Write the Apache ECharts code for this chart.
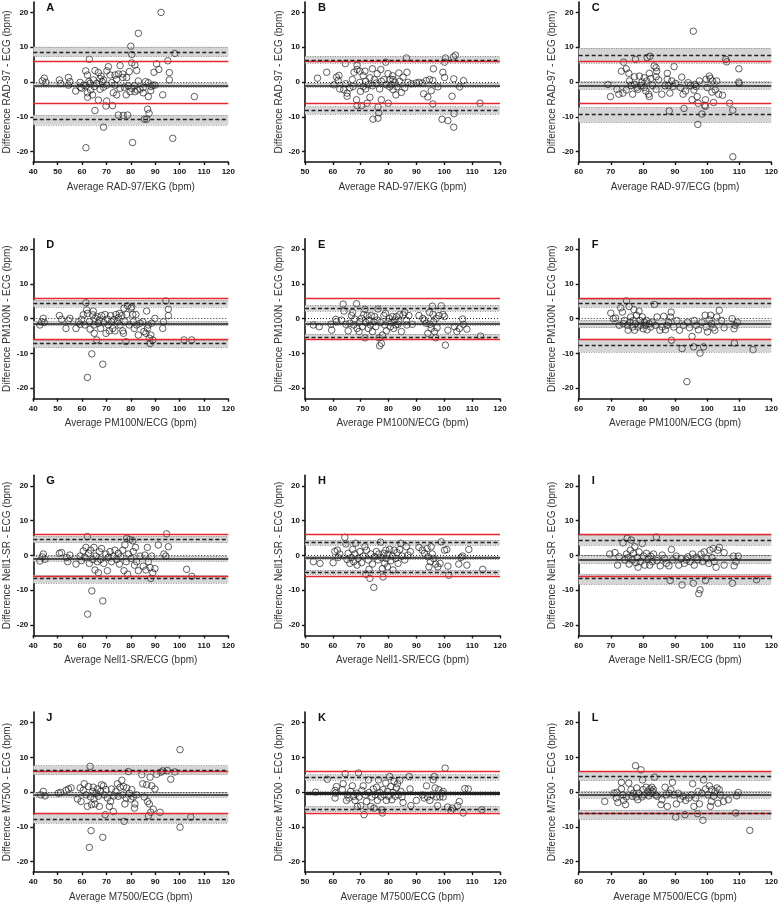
<!DOCTYPE html>
<html>
<head>
<meta charset="utf-8">
<script src="https://cdn.jsdelivr.net/npm/echarts@6/dist/echarts.min.js"></script>
<style>
  html, body { margin: 0; padding: 0; background: #fff; }
  #chart { width: 781px; height: 905px; }
</style>
</head>
<body>
<div id="chart"></div>
<script>
// panel letters and axis titles
const letters = ['A', 'B', 'C', 'D', 'E', 'F', 'G', 'H', 'I', 'J', 'K', 'L'];
const xTitles = [
  'Average RAD-97/EKG (bpm)', 'Average RAD-97/EKG (bpm)', 'Average RAD-97/ECG (bpm)',
  'Average PM100N/ECG (bpm)', 'Average PM100N/ECG (bpm)', 'Average PM100N/ECG (bpm)',
  'Average Nell1-SR/ECG (bpm)', 'Average Nell1-SR/ECG (bpm)', 'Average Nell1-SR/ECG (bpm)',
  'Average M7500/ECG (bpm)', 'Average M7500/ECG (bpm)', 'Average M7500/ECG (bpm)'
];
const yTitles = [
  'Difference RAD-97 - ECG (bpm)', 'Difference PM100N - ECG (bpm)',
  'Difference Nell1-SR - ECG (bpm)', 'Difference M7500 - ECG (bpm)'
];
const xMins = [40, 50, 60];
const yTicks = [-20, -10, 0, 10, 20];

// Bland-Altman statistics per panel
const clinicalLimit = 6;
const bias = [-1.05, -1.0, -0.95, -1.35, -1.35, -1.45, -0.96, -0.67, -1.15, -0.8, -0.3, -0.85];
const biasCI = [[-0.4, -1.5], [-0.3, -1.5], [0.1, -2.1], [-0.7, -2.0], [-0.8, -1.8], [-0.4, -2.6],
  [-0.2, -1.7], [-0.2, -1.15], [0.1, -2.3], [0, -1.5], [0.2, -0.8], [0.2, -1.7]];
const upperLoA = [8.6, 6.3, 7.7, 4.4, 3.0, 4.5, 4.6, 3.65, 4.4, 6.4, 4.2, 4.5];
const upperCI = [[10.1, 7.3], [7.4, 5.5], [9.8, 5.5], [5.4, 3.4], [3.9, 2.2], [5.7, 3.3],
  [5.6, 3.65], [4.4, 2.9], [5.8, 2.9], [7.6, 5.0], [5.0, 3.55], [5.9, 3.3]];
const lowerLoA = [-10.7, -8.0, -9.4, -7.0, -5.2, -7.5, -6.6, -4.8, -6.55, -7.8, -4.9, -6.2];
const lowerCI = [[-9.5, -12.3], [-7.1, -9.2], [-7.3, -11.6], [-6.1, -8.3], [-4.4, -5.8], [-5.8, -9.6],
  [-5.7, -7.9], [-4.2, -5.4], [-5.4, -8.3], [-6.5, -8.9], [-4.1, -5.6], [-5.1, -7.8]];

// points [average, difference]
const ptsA = [[92.4,20.0],[83.1,14.0],[80.0,10.3],[80.4,7.9],[98.1,8.2],[63.0,6.5],[95.2,6.1],[80.4,5.5],[81.7,4.9],[90.6,5.2],[91.5,3.6],[95.8,2.7],[95.8,0.6],[89.5,2.8],[82.4,3.3],[79.4,3.0],[70.8,4.4],[75.6,4.7],[70.2,3.2],[61.5,3.2],[65.3,3.3],[66.7,2.7],[62.2,2.0],[67.8,1.7],[71.5,2.0],[73.5,2.0],[74.9,2.3],[76.7,2.3],[74.2,0.8],[76.7,1.3],[78.3,1.3],[44.5,1.1],[43.7,0.3],[45.2,-0.1],[50.7,0.6],[51.2,-0.4],[54.4,1.3],[55.0,0.1],[54.4,-0.9],[57.4,-2.6],[59.2,-0.1],[59.8,-1.8],[61.6,-1.1],[62.2,-3.1],[62.3,-4.4],[63.5,-2.3],[64.3,-3.7],[65.0,-1.3],[66.0,-0.4],[66.7,-5.2],[65.3,-8.2],[67.4,-2.1],[68.8,-1.5],[69.8,-6.9],[70.1,-5.5],[68.8,-13.0],[61.6,-18.9],[72.5,-6.8],[72.8,-3.1],[74.2,-3.7],[74.9,-9.5],[76.9,-9.6],[78.7,-9.5],[80.7,-17.4],[75.6,-1.8],[77.4,-1.5],[78.1,-3.7],[79.7,-2.8],[80.4,-1.8],[81.5,-1.1],[83.1,0.3],[83.8,-2.1],[85.1,-3.1],[86.1,0.1],[87.2,-4.2],[86.9,-7.8],[87.5,-9.0],[85.6,-10.7],[86.5,-10.7],[88.2,-2.5],[89.0,-0.9],[93.1,-3.7],[97.2,-16.2],[106.1,-4.2],[87.2,-0.2],[88.3,-1.3],[89.9,-0.9],[85.1,-1.6],[81.7,-2.8],[82.6,-2.3],[78.9,-1.1],[72.2,-0.2],[70.1,-0.9],[73.5,-0.9],[63.3,-0.4],[68.2,0.1],[62.8,0.1],[60.7,-0.9],[59.3,-1.5],[67.4,1.0],[68.8,0.6],[64.6,0.6]];
const ptsB = [[54.5,1.1],[57.8,2.8],[60.4,-0.8],[61.3,1.4],[62.2,1.9],[61.9,0.5],[62.5,-2.0],[64.5,5.3],[64.6,-0.5],[65.1,-3.2],[65.1,-4.1],[66.1,-1.7],[67.3,-1.3],[67.6,2.8],[68.7,4.8],[68.7,3.6],[68.5,-5.1],[68.7,-6.8],[70.3,-6.8],[69.7,3.1],[69.7,-0.1],[69.9,-2.7],[70.9,1.8],[71.5,3.1],[71.8,0.2],[71.8,-2.0],[72.3,-6.1],[73.3,-4.4],[73.3,1.2],[74.2,-1.1],[74.2,3.8],[74.4,-10.7],[75.6,-0.3],[75.9,2.4],[76.2,-10.4],[76.5,-8.9],[76.2,-7.2],[76.8,-2.0],[77.2,3.6],[77.4,-5.1],[78.3,0.7],[79.0,5.7],[79.2,-0.8],[79.8,2.4],[79.9,-6.1],[80.6,0.7],[81.0,-0.8],[81.4,1.8],[81.6,-2.2],[82.2,-0.1],[82.6,-3.7],[83.0,-1.4],[83.7,2.6],[84.0,0.2],[84.6,-3.0],[85.2,1.4],[85.8,-1.7],[86.4,6.9],[86.6,2.8],[87.0,-0.1],[88.2,-0.5],[89.9,-0.3],[90.9,-0.1],[92.1,-0.3],[92.6,-3.4],[93.5,0.4],[94.1,-4.3],[94.7,0.7],[95.3,-2.5],[95.9,0.4],[96.1,3.8],[95.9,-6.3],[97.7,-1.4],[99.2,-10.7],[99.5,2.8],[100.1,1.3],[100.1,5.7],[100.4,6.9],[101.3,-11.1],[102.8,-4.1],[103.3,7.2],[104.0,7.7],[103.4,0.9],[103.5,-9.1],[103.4,-13.0],[105.5,-1.4],[106.9,0.4],[112.8,-6.1],[74.9,0.7],[77.4,0.2],[80.4,-1.4],[63.9,-2.2],[67.0,0.7],[70.9,-1.3],[72.7,-0.8],[81.6,0.7]];
const ptsC = [[95.7,14.6],[81.3,7.0],[82.2,7.4],[77.7,6.5],[74.0,5.7],[105.8,6.5],[106.1,5.8],[109.9,3.8],[83.5,4.6],[84.1,4.1],[73.3,3.1],[74.8,3.8],[84.3,3.1],[82.0,2.5],[87.6,2.5],[89.7,4.4],[75.6,2.5],[77.4,1.5],[78.9,1.7],[80.4,1.2],[81.2,0.3],[82.5,1.0],[84.1,1.5],[84.9,0.6],[87.6,0.8],[92.1,1.4],[69.1,-0.7],[69.9,-4.2],[71.9,-2.1],[72.5,-3.5],[73.8,-3.2],[74.8,-2.3],[75.8,0.3],[76.3,-1.0],[76.8,-3.5],[77.4,-0.7],[78.1,-1.6],[78.4,-2.1],[79.4,-1.1],[79.7,0.0],[80.4,-1.6],[80.9,-2.6],[81.8,-3.5],[82.0,-4.2],[83.0,-1.0],[84.1,-2.1],[85.9,-3.5],[86.9,-1.1],[88.0,-1.0],[88.4,-3.2],[88.2,-8.3],[89.0,0.3],[89.4,-1.3],[90.2,-0.4],[91.7,-1.6],[92.5,-3.5],[92.8,-7.6],[93.3,-2.6],[94.1,-0.2],[94.8,-1.0],[95.3,-5.1],[95.9,-2.3],[96.2,-0.7],[96.6,-1.3],[96.9,-4.2],[97.2,-6.1],[97.1,-12.2],[97.6,0.3],[98.4,-9.2],[99.2,-6.7],[99.5,-5.1],[99.5,-7.0],[99.7,0.8],[100.0,-1.6],[100.7,1.7],[101.0,1.0],[101.5,-2.9],[101.7,0.3],[102.0,-5.9],[102.5,-2.3],[103.0,0.3],[103.6,-3.5],[104.8,-3.8],[107.0,-6.1],[108.0,-8.1],[108.0,-21.5],[109.9,0.0],[110.0,-0.4]];
const ptsD = [[42.7,-1.8],[43.4,-0.9],[44.1,0.1],[44.5,-1.1],[50.7,0.9],[51.6,-0.2],[53.4,-2.8],[54.4,-0.5],[55.0,0.1],[57.5,-2.8],[58.5,-0.9],[59.2,-1.6],[59.8,-0.2],[60.5,1.1],[61.2,-1.8],[61.6,4.6],[61.9,2.5],[62.2,1.5],[62.2,-16.9],[63.0,-0.9],[63.3,-3.0],[64.0,-10.1],[64.4,1.1],[64.6,2.2],[64.9,-1.8],[65.0,-4.2],[65.3,0.1],[66.0,-6.1],[66.3,0.6],[66.7,-1.3],[67.1,-0.4],[67.6,-2.8],[68.0,0.9],[68.5,-13.1],[68.9,-1.1],[69.4,1.2],[69.8,-4.2],[70.4,-0.1],[70.8,-1.8],[71.2,-3.5],[71.7,0.9],[72.1,-0.9],[72.6,-2.8],[73.1,-0.2],[73.5,-3.5],[73.9,1.2],[74.5,-0.9],[74.9,0.3],[75.3,1.5],[75.6,-1.8],[76.3,0.9],[76.7,-3.5],[77.0,-4.2],[77.2,3.0],[77.6,-0.9],[78.0,-6.6],[78.3,1.2],[78.7,3.7],[79.4,-1.8],[80.1,3.0],[80.4,3.4],[80.8,1.2],[81.0,-0.9],[81.4,-2.8],[82.1,1.2],[82.4,-1.8],[83.1,-4.7],[83.8,-1.3],[84.9,-0.9],[85.4,-3.7],[86.2,-4.2],[86.5,2.2],[86.8,-2.8],[87.2,-1.8],[87.6,-5.6],[87.9,-7.1],[88.2,-4.7],[88.6,-1.3],[89.0,-6.1],[89.9,0.1],[93.1,-2.8],[93.4,-0.9],[94.4,5.1],[95.4,2.7],[95.4,0.9],[101.8,-6.1],[105.0,-6.1]];
const ptsE = [[53.0,-1.8],[55.1,-2.3],[59.3,-1.6],[59.6,-3.3],[61.1,-0.2],[61.3,-0.9],[63.1,-0.4],[63.7,4.2],[64.0,2.2],[64.7,-1.6],[65.5,-3.5],[66.1,-1.3],[66.7,0.9],[67.1,1.8],[67.5,-1.8],[67.9,-0.1],[68.5,4.3],[68.7,-2.8],[69.4,-3.7],[69.7,-0.9],[70.3,0.1],[70.6,-2.3],[71.1,1.2],[71.5,2.7],[71.5,-5.5],[71.8,-1.1],[72.3,0.9],[72.7,-2.8],[73.0,-0.4],[73.5,-1.8],[73.8,0.9],[74.2,-3.7],[74.7,-0.9],[75.0,0.6],[75.4,-2.3],[75.9,-0.4],[76.2,2.8],[76.6,-5.5],[76.8,-7.8],[77.1,-1.1],[77.4,-7.1],[77.8,-4.7],[78.3,0.9],[78.6,-1.8],[78.9,1.5],[79.2,-3.5],[79.8,-0.9],[80.2,0.1],[80.6,-2.3],[81.0,-1.1],[81.4,0.6],[81.8,-2.8],[82.2,-0.4],[82.6,-1.8],[82.8,0.6],[83.4,-1.6],[83.7,-0.9],[84.0,1.2],[84.6,-3.7],[85.2,1.1],[85.8,1.8],[86.4,-0.4],[86.6,-1.8],[87.3,0.9],[88.5,-1.6],[90.9,0.9],[92.3,0.1],[92.9,-0.4],[93.5,-1.3],[94.1,-4.2],[94.7,1.8],[94.9,-1.6],[95.3,-2.8],[95.7,3.6],[95.9,1.2],[96.2,-0.9],[96.5,-3.7],[96.9,-5.5],[97.1,0.1],[97.4,-2.6],[98.1,0.9],[98.9,3.7],[99.5,1.2],[100.1,0.6],[100.4,-7.6],[101.3,-3.3],[103.7,-2.3],[104.5,-3.7],[105.4,-2.8],[106.6,-0.1],[106.9,-1.6],[108.1,-3.0],[113.0,-5.0]];
const ptsF = [[70.0,1.6],[70.8,0.0],[71.5,0.2],[72.6,-1.9],[73.1,3.1],[73.6,1.9],[73.9,-1.4],[74.3,-0.5],[74.9,5.1],[75.2,-1.9],[75.4,-3.3],[75.7,3.5],[76.0,-1.0],[76.2,0.5],[76.7,-2.4],[77.0,-0.5],[77.2,2.6],[77.4,-3.3],[77.7,-1.4],[78.0,1.0],[78.5,-2.4],[78.8,2.2],[79.1,-0.5],[79.3,-1.9],[79.8,0.5],[80.1,-2.9],[80.5,-1.0],[80.8,-1.9],[81.1,-0.5],[81.3,-3.2],[81.9,-1.4],[82.4,-2.4],[82.9,-1.0],[83.6,4.1],[83.9,-1.9],[84.4,0.5],[85.3,-3.3],[86.0,-2.4],[86.5,0.7],[87.0,-3.2],[87.5,-1.9],[88.0,-1.0],[88.6,0.5],[88.8,1.9],[88.9,-6.2],[89.6,-2.4],[90.6,-0.5],[91.4,-3.3],[92.2,-8.6],[92.7,-1.9],[93.7,-18.1],[93.9,-1.0],[94.5,-2.6],[95.3,-5.1],[95.8,-8.1],[96.0,-0.5],[96.6,-1.9],[97.3,-3.2],[97.8,-9.9],[98.4,-1.0],[98.9,-8.1],[99.4,1.0],[99.7,-2.4],[100.1,-3.8],[100.7,-0.3],[101.1,1.0],[101.4,-1.4],[101.9,-2.6],[102.4,-3.3],[103.0,0.5],[103.8,2.4],[104.5,-0.5],[105.3,-2.6],[107.8,0.0],[108.4,-2.9],[108.5,-7.0],[108.7,-1.9],[109.4,-1.0],[114.3,-8.9]];
const ptsG = [[42.7,-1.6],[43.7,-0.4],[44.1,0.4],[44.8,-1.1],[50.7,0.6],[51.6,0.8],[53.7,-0.6],[54.1,-1.8],[55.0,0.1],[57.5,-2.5],[59.2,-0.2],[59.8,-1.5],[60.5,1.3],[61.2,-0.6],[61.6,2.3],[62.2,5.4],[62.3,-16.9],[62.7,0.6],[63.0,-2.3],[63.5,1.5],[64.0,-10.2],[64.4,-1.2],[64.9,2.3],[65.3,-4.2],[65.7,-0.2],[66.3,-1.8],[66.7,-5.0],[67.1,1.1],[67.6,-1.2],[68.0,2.0],[68.5,-13.1],[68.9,-2.3],[69.8,0.4],[70.4,-4.4],[70.8,-0.6],[71.5,1.1],[72.1,-1.8],[72.8,-0.2],[73.5,1.5],[74.2,-1.2],[74.9,0.6],[75.3,-2.5],[75.9,-0.4],[76.7,1.5],[77.2,-4.4],[77.6,3.0],[78.1,-1.8],[78.3,4.9],[78.7,-5.4],[79.0,0.4],[79.7,4.6],[80.1,-0.9],[80.8,4.2],[81.0,1.1],[81.5,-2.8],[81.9,2.3],[82.4,-1.8],[83.1,-4.4],[83.8,-0.2],[85.1,-3.1],[85.8,0.1],[86.2,-4.2],[86.8,2.3],[87.2,-1.8],[87.9,-3.5],[88.2,-6.6],[88.6,-0.2],[89.0,-5.0],[89.9,-3.8],[91.3,3.0],[93.6,0.4],[94.4,-0.2],[94.7,6.2],[95.4,2.5],[102.9,-4.0],[105.0,-6.0]];
const ptsH = [[53.0,-1.8],[55.4,-2.3],[60.1,-2.1],[60.7,1.1],[61.6,1.5],[61.9,-0.6],[62.5,0.4],[64.3,5.2],[64.7,3.3],[65.1,-1.2],[65.5,0.6],[66.1,-2.3],[66.7,-0.6],[67.1,1.7],[67.5,-1.8],[67.9,0.4],[68.2,3.5],[68.7,-2.8],[69.1,-0.9],[69.7,1.1],[70.3,-2.1],[70.9,-0.2],[71.5,2.5],[71.8,-5.4],[72.1,1.5],[72.7,-1.3],[73.0,-4.0],[73.3,-6.6],[73.6,0.4],[74.2,-2.5],[74.7,-9.2],[75.0,-0.4],[75.6,1.1],[76.2,-1.3],[76.5,0.4],[77.1,3.8],[77.4,-0.6],[77.8,-3.8],[78.0,-6.2],[78.3,0.6],[78.6,-2.3],[79.0,1.5],[79.2,-0.9],[79.6,-3.3],[79.8,0.4],[80.4,1.7],[80.8,-1.5],[81.4,-0.2],[81.6,-4.2],[82.0,1.5],[82.6,-0.9],[83.0,0.8],[83.4,-2.3],[84.0,1.7],[84.4,3.5],[84.9,-0.2],[85.8,-1.3],[86.4,2.5],[87.0,0.1],[87.8,1.1],[90.9,2.3],[92.1,1.5],[92.9,0.6],[93.8,2.0],[94.1,-0.4],[94.5,-3.3],[95.0,-1.8],[95.3,2.5],[95.7,0.4],[96.2,-0.9],[96.9,-2.5],[97.7,-3.3],[98.5,-2.3],[98.9,3.9],[100.1,1.5],[100.9,1.7],[101.3,-3.1],[101.6,-5.7],[105.2,-2.5],[106.0,-0.6],[106.6,-0.2],[108.1,-2.8],[108.8,1.7],[113.8,-4.0]];
const ptsI = [[69.7,0.4],[71.3,0.8],[72.1,-2.8],[72.6,-0.4],[73.8,3.6],[74.4,-1.3],[74.9,0.4],[75.1,4.9],[75.4,-0.6],[75.7,-2.5],[76.1,1.5],[76.4,4.4],[76.7,-1.3],[77.1,0.6],[77.5,2.5],[77.8,-2.1],[78.2,-0.6],[78.5,-3.4],[78.8,1.0],[79.2,-1.8],[79.8,3.4],[80.2,-0.2],[80.6,-2.8],[81.1,0.6],[81.6,-1.1],[82.1,-2.8],[82.4,-0.2],[82.9,-1.8],[83.3,0.4],[84.2,5.3],[84.4,-1.5],[85.4,-3.0],[86.0,0.1],[86.7,-0.9],[87.3,-2.3],[88.1,-3.0],[88.5,-7.2],[88.9,1.7],[89.3,-1.3],[90.4,-0.2],[91.2,-2.8],[91.9,-0.9],[92.2,-8.5],[92.9,-2.3],[93.5,-1.3],[94.0,-0.4],[94.7,-1.8],[95.5,0.4],[95.7,-8.0],[96.0,-2.8],[96.6,-0.6],[97.1,-1.3],[97.4,-11.0],[97.8,-9.9],[98.1,0.4],[98.6,-1.8],[99.1,1.0],[99.5,-7.2],[99.9,-0.9],[100.5,-2.3],[100.9,1.5],[101.5,-0.6],[101.9,2.0],[102.2,-1.8],[102.8,-3.4],[103.3,1.5],[103.8,2.3],[105.3,0.8],[105.3,-2.8],[107.9,-8.0],[108.2,-0.2],[108.4,-3.0],[109.0,-1.8],[109.7,-0.2],[115.4,-7.0]];
const ptsJ = [[43.0,-0.8],[44.1,0.2],[44.8,-1.1],[50.3,-0.3],[51.2,-0.1],[53.4,0.5],[54.4,0.9],[55.5,1.2],[58.1,-2.0],[59.2,1.2],[59.6,-2.7],[60.5,0.5],[60.9,2.4],[61.6,-0.8],[62.2,-4.1],[62.6,1.6],[63.0,-15.9],[63.3,7.4],[63.5,-1.4],[63.7,-11.1],[63.9,-3.6],[64.4,0.2],[64.6,1.4],[64.9,-2.0],[65.3,-3.4],[65.7,-0.3],[66.3,0.9],[66.7,-1.2],[67.1,-4.1],[67.6,0.2],[68.0,2.1],[68.5,-13.0],[68.8,1.8],[69.1,-0.8],[69.5,-6.5],[69.8,0.7],[70.4,-1.7],[71.2,-4.1],[71.7,-2.7],[72.1,0.9],[72.8,-5.6],[73.1,-1.1],[73.9,0.2],[74.5,2.4],[74.9,-1.2],[75.6,1.4],[76.3,3.4],[76.7,-0.8],[77.0,1.6],[77.3,-8.4],[77.6,-3.4],[78.1,-1.7],[78.3,1.2],[79.0,5.9],[79.4,-0.3],[80.0,-2.0],[80.4,0.7],[81.0,-1.4],[81.5,-4.6],[81.7,-3.4],[82.4,-0.8],[84.5,5.0],[84.9,2.4],[85.5,-1.4],[86.5,2.1],[86.9,-2.7],[87.2,-6.8],[87.6,-3.4],[87.9,4.3],[88.2,-5.8],[88.6,1.8],[89.2,-4.9],[89.9,0.9],[90.6,5.1],[92.0,-5.8],[92.3,5.7],[93.1,6.1],[95.0,6.2],[96.4,3.7],[98.1,5.8],[100.2,12.2],[100.2,-10.1],[104.6,-7.2]];
const ptsK = [[53.8,0.0],[58.0,3.7],[60.8,0.5],[61.0,-0.3],[60.8,-1.7],[61.3,1.6],[63.4,0.7],[63.7,2.4],[64.4,5.3],[64.9,-2.4],[65.2,-0.8],[65.8,-1.7],[66.4,0.2],[67.0,1.8],[67.4,-1.2],[68.0,-2.4],[68.5,-0.3],[68.8,-4.1],[69.2,5.5],[69.4,-1.4],[70.0,-3.9],[70.4,0.5],[70.9,1.8],[71.2,-6.5],[71.6,-0.8],[72.1,-2.7],[72.8,3.5],[73.0,-0.1],[73.6,-4.1],[74.0,-1.4],[74.5,0.9],[74.8,-4.6],[75.2,-0.8],[75.7,1.4],[76.0,-2.4],[76.4,3.5],[76.8,-0.1],[77.2,-1.4],[77.6,-5.1],[77.8,-6.0],[78.0,0.7],[78.4,-0.8],[79.0,2.6],[79.2,-2.4],[79.6,0.2],[80.0,-1.2],[80.4,4.5],[80.8,1.6],[81.2,-2.2],[81.6,-0.1],[82.0,3.1],[82.4,-1.2],[82.8,1.2],[83.2,2.4],[83.6,-0.8],[84.0,3.4],[84.4,0.2],[84.8,-1.4],[85.2,-3.0],[87.4,4.5],[87.7,0.9],[88.0,-3.9],[90.0,-2.4],[92.2,-0.8],[92.8,-1.7],[93.6,1.8],[94.0,-1.4],[94.8,-2.4],[95.5,-0.8],[96.0,3.5],[96.4,4.5],[96.7,1.2],[97.2,-1.4],[97.6,-3.9],[98.0,0.7],[98.4,-1.4],[99.1,-0.3],[99.6,0.2],[99.6,-1.4],[100.3,6.9],[101.2,-4.3],[102.4,-5.3],[102.9,-4.6],[104.8,-3.9],[105.4,-2.7],[106.8,-6.0],[107.4,1.0],[108.6,0.9],[113.5,-5.1]];
const ptsL = [[68.1,-2.7],[71.0,-0.3],[71.7,-1.7],[71.9,-0.1],[72.2,-3.0],[73.3,2.8],[73.3,0.9],[73.8,-0.8],[74.0,-2.4],[74.6,-3.6],[74.8,-1.4],[75.6,2.6],[76.3,0.7],[76.6,-1.2],[77.1,-0.3],[77.7,7.6],[77.9,-1.4],[78.1,1.2],[78.4,-2.2],[78.7,-0.3],[79.4,6.4],[79.7,-1.4],[79.9,3.5],[80.1,0.7],[80.4,-0.8],[81.0,1.4],[81.5,0.2],[81.8,-1.1],[82.2,0.9],[82.5,-0.3],[82.8,1.4],[83.0,0.2],[83.3,0.7],[83.6,4.3],[84.0,-0.8],[84.4,-1.2],[85.6,-3.6],[85.9,-2.2],[86.9,1.4],[87.3,-0.8],[87.6,-4.1],[88.2,-0.3],[88.7,0.7],[89.2,2.8],[89.7,-0.8],[90.2,-7.2],[90.4,-3.4],[91.0,-0.3],[91.7,-2.0],[92.5,-1.2],[93.1,-6.5],[93.3,-2.4],[94.3,-1.7],[95.1,-0.8],[95.5,2.4],[95.9,-4.1],[96.4,-1.7],[97.0,-6.2],[97.2,0.2],[97.6,-3.4],[98.4,-0.3],[98.7,-8.1],[98.9,3.5],[99.5,0.9],[100.3,-0.8],[100.7,1.8],[101.0,-4.1],[101.3,-2.7],[101.5,0.7],[102.0,-1.2],[102.5,0.2],[103.1,1.2],[103.4,-3.2],[103.8,0.7],[104.1,-0.8],[105.1,-2.7],[106.6,-2.2],[108.9,-6.0],[109.2,-1.1],[109.7,-0.1],[113.3,-11.0]];
const points = [ptsA, ptsB, ptsC, ptsD, ptsE, ptsF, ptsG, ptsH, ptsI, ptsJ, ptsK, ptsL];

const colLeft = [33.3, 305, 578.7];
const rowTop = [2, 238.7, 475.4, 712.1];
const gridW = 195, gridH = 160;
const font = 'Liberation Sans, Arial, sans-serif';

const chart = echarts.init(document.getElementById('chart'));

const grid = [], xAxis = [], yAxis = [], series = [], graphic = [];

letters.forEach((letter, i) => {
  const row = Math.floor(i / 3), col = i % 3;
  grid.push({ left: colLeft[col], top: rowTop[row], width: gridW, height: gridH });
  const axisLine = { show: true, onZero: false, lineStyle: { color: '#111', width: 1.6 } };
  const axisTick = { show: true, length: 3, lineStyle: { color: '#111', width: 1.4 } };
  xAxis.push({
    gridIndex: i, type: 'value', min: xMins[col], max: 120, interval: 10,
    axisLine, axisTick, splitLine: { show: false },
    axisLabel: { fontSize: 8, fontWeight: 'bold', color: '#111', margin: 6, fontFamily: font },
    name: xTitles[i], nameLocation: 'middle', nameGap: 20,
    nameTextStyle: { fontSize: 10, color: '#333', fontFamily: font }
  });
  yAxis.push({
    gridIndex: i, type: 'value', min: -23, max: 23,
    axisLine, splitLine: { show: false },
    axisTick: Object.assign({ customValues: yTicks }, axisTick),
    axisLabel: { customValues: yTicks, fontSize: 8, fontWeight: 'bold', color: '#111', margin: 5, fontFamily: font },
    name: yTitles[row], nameLocation: 'middle', nameGap: 21,
    nameTextStyle: { fontSize: 10, color: '#333', fontFamily: font }
  });

  const bands = [biasCI[i], upperCI[i], lowerCI[i]];
  const edgeStyle = { color: '#7a7a7a', width: 0.8, type: [1, 1.5] };
  // confidence bands
  series.push({
    type: 'scatter', xAxisIndex: i, yAxisIndex: i, data: [], z: 1, silent: true,
    markArea: {
      silent: true,
      itemStyle: { color: '#d5d5d5' },
      data: bands.map(b => [{ yAxis: b[0] }, { yAxis: b[1] }])
    },
    markLine: {
      silent: true, symbol: 'none', label: { show: false }, animation: false,
      lineStyle: edgeStyle,
      data: bands.flat().map(v => ({ yAxis: v }))
    }
  });
  // reference lines
  series.push({
    type: 'scatter', xAxisIndex: i, yAxisIndex: i, data: [], z: 2, silent: true,
    markLine: {
      silent: true, symbol: 'none', label: { show: false }, animation: false,
      data: [
        { yAxis: 0, lineStyle: { color: '#222', width: 1, type: [1, 2] } },
        { yAxis: clinicalLimit, lineStyle: { color: '#e8262d', width: 1.4, type: 'solid' } },
        { yAxis: -clinicalLimit, lineStyle: { color: '#e8262d', width: 1.4, type: 'solid' } },
        { yAxis: bias[i], lineStyle: { color: '#222', width: letter === 'K' ? 3 : 1.5, type: 'solid' } },
        { yAxis: upperLoA[i], lineStyle: { color: '#222', width: 1.4, type: [4, 2.5] } },
        { yAxis: lowerLoA[i], lineStyle: { color: '#222', width: 1.4, type: [4, 2.5] } }
      ]
    }
  });
  // observations
  series.push({
    type: 'scatter', xAxisIndex: i, yAxisIndex: i, z: 3, silent: true,
    data: points[i], symbol: 'circle', symbolSize: 6.5,
    itemStyle: { color: 'rgba(0,0,0,0)', borderColor: '#222', borderWidth: 0.9 }
  });

  graphic.push({
    type: 'text', left: colLeft[col] + 13, top: rowTop[row] + 0.5,
    style: { text: letter, font: 'bold 11px ' + font, fill: '#111' }
  });
});

chart.setOption({
  animation: false,
  backgroundColor: '#fff',
  grid, xAxis, yAxis, series, graphic
});
</script>
</body>
</html>
